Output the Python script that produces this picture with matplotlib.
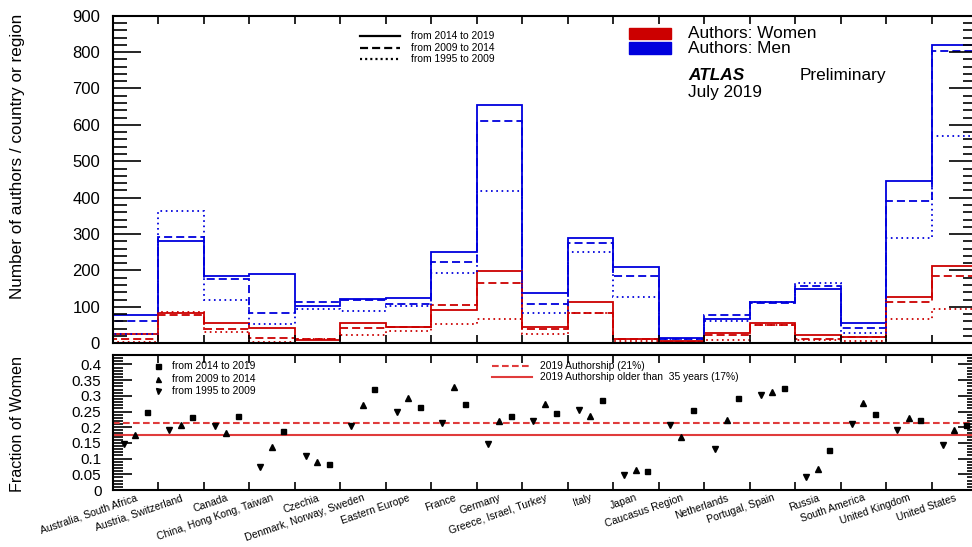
import numpy as np
import matplotlib
matplotlib.use("Agg")
import matplotlib.pyplot as plt
from matplotlib.ticker import MultipleLocator, FuncFormatter
from matplotlib.patches import Rectangle
from matplotlib.lines import Line2D

plt.rcParams['font.family'] = ['Liberation Sans', 'DejaVu Sans']
plt.rcParams['lines.scale_dashes'] = False

regions = ["Australia, South Africa", "Austria, Switzerland", "Canada",
           "China, Hong Kong, Taiwan", "Czechia", "Denmark, Norway, Sweden",
           "Eastern Europe", "France", "Germany", "Greece, Israel, Turkey",
           "Italy", "Japan", "Caucasus Region", "Netherlands", "Portugal, Spain",
           "Russia", "South America", "United Kingdom", "United States"]

# number of authors per region (top panel)
men_2014_2019 = [78, 282, 184, 190, 103, 123, 125, 252, 654, 137, 290, 210, 15, 67, 114, 149, 55, 447, 820]
women_2014_2019 = [26, 84, 56, 43, 9, 57, 44, 92, 198, 44, 114, 13, 5, 27, 55, 22, 18, 128, 211]
men_2009_2014 = [62, 292, 176, 84, 114, 118, 107, 224, 612, 109, 275, 185, 13, 77, 112, 158, 43, 391, 804]
women_2009_2014 = [13, 77, 39, 14, 11, 43, 44, 106, 167, 39, 83, 12, 2.6, 22, 51, 11, 16, 114, 186]
men_1995_2009 = [25, 363, 120, 53, 95, 90, 103, 194, 418, 84, 251, 126, 12, 61, 113, 166, 28, 289, 570]
women_1995_2009 = [4.3, 86, 30, 4.2, 11.6, 23, 34, 52, 68, 25, 84, 6.5, 3.1, 9, 49, 8, 7.4, 66, 95]

# fraction of women (bottom panel)
frac_2014_2019 = [0.249, 0.233, 0.236, 0.188, 0.083, 0.322, 0.265, 0.274, 0.236, 0.245,
                  0.288, 0.060, 0.255, 0.293, 0.325, 0.127, 0.242, 0.224, 0.206]
frac_2009_2014 = [0.176, 0.208, 0.181, 0.137, 0.090, 0.270, 0.293, 0.327, 0.219, 0.274,
                  0.235, 0.063, 0.169, 0.223, 0.311, 0.066, 0.276, 0.230, 0.191]
frac_1995_2009 = [0.147, 0.192, 0.205, 0.074, 0.109, 0.205, 0.250, 0.213, 0.145, 0.221,
                  0.256, 0.049, 0.206, 0.132, 0.304, 0.043, 0.211, 0.191, 0.144]

frac_2019_all = 0.212
frac_2019_older35 = 0.175

RED = '#cc0000'
BLUE = '#0000dd'
LRED = '#e03c3c'
SOLID = '-'
DASHED = (0, (5.8, 2.9))
DOTTED = (0, (1.2, 2.6))

W, H = 972, 547
fig = plt.figure(figsize=(W / 100, H / 100), dpi=100)


def box(x0, y0, x1, y1):
    # pixel box (y from top) -> figure fraction
    return [x0 / W, 1 - y1 / H, (x1 - x0) / W, (y1 - y0) / H]


def fx(x):
    return x / W


def fy(y):
    return 1 - y / H


n = len(regions)
edges = np.arange(n + 1)
centers = edges[:-1] + 0.5

# ---- top panel: number of authors
ax = fig.add_axes(box(112.5, 15.7, 977, 343.3))
periods = [(men_2014_2019, women_2014_2019, SOLID),
           (men_2009_2014, women_2009_2014, DASHED),
           (men_1995_2009, women_1995_2009, DOTTED)]
for men, women, ls in periods:
    ax.stairs(men, edges, color=BLUE, lw=1.3, linestyle=ls)
    ax.stairs(women, edges, color=RED, lw=1.3, linestyle=ls)

ax.set_xlim(0, n)
ax.set_ylim(0, 900)
ax.set_xticks(edges)
ax.set_xticklabels([])
ax.yaxis.set_major_locator(MultipleLocator(100))
ax.yaxis.set_minor_locator(MultipleLocator(20))
ax.tick_params(axis='y', which='major', direction='in', length=20, width=1.2,
               left=True, right=True, labelsize=12, pad=9)
ax.tick_params(axis='y', which='minor', direction='in', length=10, width=1.2,
               left=True, right=True)
ax.tick_params(axis='x', which='major', direction='in', length=6, width=1.2,
               top=True, bottom=True)
for s in ax.spines.values():
    s.set_linewidth(1.5)

# ---- bottom panel: fraction of women
ax2 = fig.add_axes(box(112.5, 355, 977, 490))
off = [0.25, 0.5, 0.75]
ax2.axhline(frac_2019_all, color=LRED, lw=1.5, linestyle=(0, (4.8, 2.4)))
ax2.axhline(frac_2019_older35, color=LRED, lw=1.5)
ax2.plot(edges[:-1] + off[0], frac_1995_2009, 'v', color='black', ms=4, ls='none')
ax2.plot(edges[:-1] + off[1], frac_2009_2014, '^', color='black', ms=4, ls='none')
ax2.plot(edges[:-1] + off[2], frac_2014_2019, 's', color='black', ms=3.6, ls='none')

ax2.set_xlim(0, n)
ax2.set_ylim(0, 0.43)
ax2.set_xticks(edges)
ax2.set_xticklabels([])
ax2.set_xticks(centers, minor=True)
ax2.set_xticklabels(regions, minor=True, rotation=19, ha='right', va='top',
                    rotation_mode='anchor', fontsize=7.5)
ax2.tick_params(axis='x', which='minor', length=0, pad=2)
ax2.tick_params(axis='x', which='major', direction='in', length=6, width=1.2,
                top=True, bottom=True)
ax2.yaxis.set_major_locator(MultipleLocator(0.05))
ax2.yaxis.set_minor_locator(MultipleLocator(0.01))
ax2.yaxis.set_major_formatter(FuncFormatter(lambda v, p: '%g' % round(v, 2)))
ax2.tick_params(axis='y', which='major', direction='in', length=14, width=1.2,
                left=True, right=True, labelsize=11, pad=8)
ax2.tick_params(axis='y', which='minor', direction='in', length=7.5, width=1.2,
                left=True, right=True)
for s in ax2.spines.values():
    s.set_linewidth(1.5)

# axis titles
fig.text(fx(18), fy(156.5), "Number of authors / country or region", rotation=90,
         ha='center', va='center', fontsize=12.3)
fig.text(fx(17), fy(424), "Fraction of Women", rotation=90,
         ha='center', va='center', fontsize=11.6)

# line style legend (top)
for y, ls, lab in [(36, SOLID, "from 2014 to 2019"),
                   (48.3, (0, (5.8, 2.9)), "from 2009 to 2014"),
                   (59, (0, (1.5, 2.2)), "from 1995 to 2009")]:
    fig.add_artist(Line2D([fx(360), fx(400)], [fy(y), fy(y)], color='black',
                          lw=1.6, linestyle=ls))
    fig.text(fx(411), fy(y), lab, ha='left', va='center', fontsize=7.4)

# colour legend
fig.add_artist(Rectangle((fx(629), fy(39.3)), fx(42), 11 / H, color=RED,
                         transform=fig.transFigure))
fig.add_artist(Rectangle((fx(629), fy(54)), fx(42), 11.7 / H, color=BLUE,
                         transform=fig.transFigure))
fig.text(fx(688), fy(34), "Authors: Women", ha='left', va='center', fontsize=12.4)
fig.text(fx(688), fy(48.5), "Authors: Men", ha='left', va='center', fontsize=12.4)
fig.text(fx(688), fy(76), "ATLAS", ha='left', va='center', fontsize=12.4,
         fontweight='bold', fontstyle='italic')
fig.text(fx(800), fy(76), "Preliminary", ha='left', va='center', fontsize=12.4)
fig.text(fx(688), fy(93), "July 2019", ha='left', va='center', fontsize=12.4)

# marker legend (bottom)
for y, m, ms, lab in [(365.7, 's', 3.6, "from 2014 to 2019"),
                      (378.7, '^', 3.6, "from 2009 to 2014"),
                      (391.3, 'v', 3.6, "from 1995 to 2009")]:
    fig.add_artist(Line2D([fx(158)], [fy(y)], marker=m, ms=ms, color='black',
                          ls='none'))
    fig.text(fx(171.7), fy(y), lab, ha='left', va='center', fontsize=7.4)

# reference lines legend (bottom)
for y, ls, lab in [(365.7, (0, (4.8, 2.4)), "2019 Authorship (21%)"),
                   (377.3, SOLID, "2019 Authorship older than  35 years (17%)")]:
    fig.add_artist(Line2D([fx(491.7), fx(531.7)], [fy(y), fy(y)], color=LRED,
                          lw=1.5, linestyle=ls))
    fig.text(fx(540), fy(y), lab, ha='left', va='center', fontsize=7.4)

fig.savefig("out.png", dpi=100)
